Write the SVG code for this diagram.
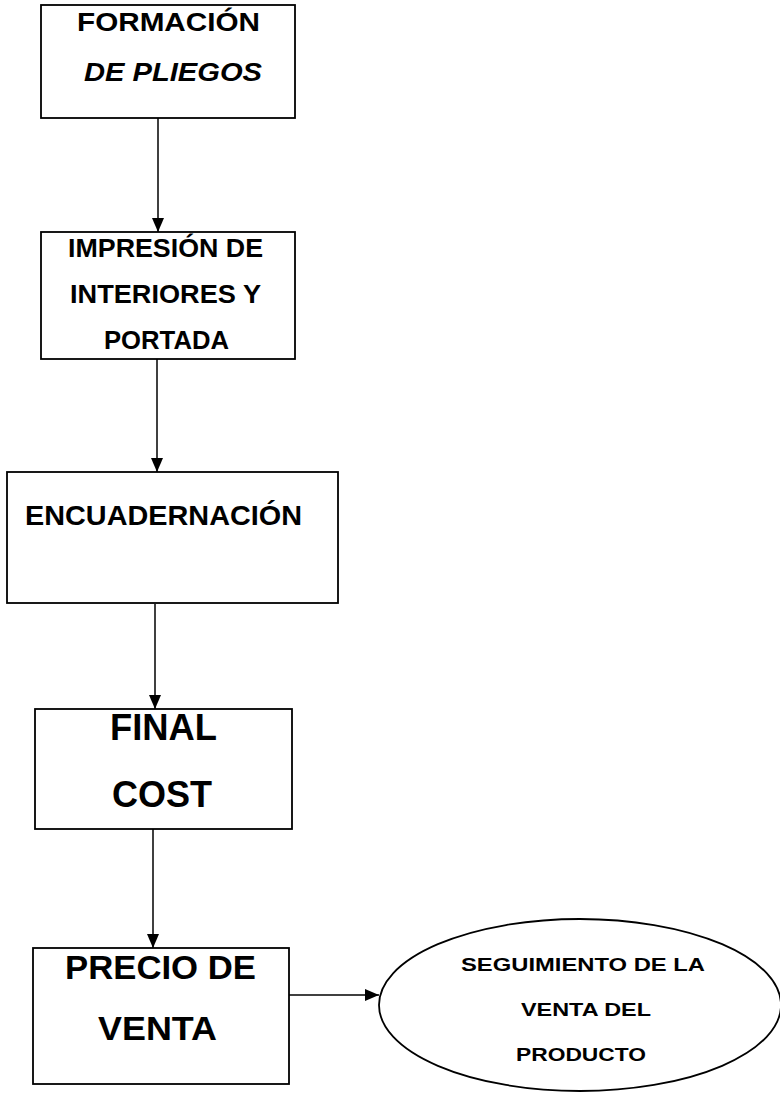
<svg xmlns="http://www.w3.org/2000/svg" width="780" height="1100" viewBox="0 0 780 1100">
<style>
.box{fill:#fff;stroke:#000;stroke-width:1.8}
.t{font-family:"Liberation Sans",Arial,sans-serif;font-weight:bold;fill:#000}
.c{stroke:#000;stroke-width:1.5;fill:none}
</style>
<defs>
<marker id="ah" viewBox="0 0 14 12" refX="14" refY="6" markerWidth="14" markerHeight="12" markerUnits="userSpaceOnUse" orient="auto"><path d="M0,0 L14,6 L0,12 z" fill="#000"/></marker>
</defs>
<rect width="780" height="1100" fill="#fff"/>
<g id="connectors">
<line class="c" x1="158" y1="118" x2="158" y2="232" marker-end="url(#ah)"/>
<line class="c" x1="157" y1="359" x2="157" y2="472" marker-end="url(#ah)"/>
<line class="c" x1="155" y1="604" x2="155" y2="709" marker-end="url(#ah)"/>
<line class="c" x1="153" y1="829" x2="153" y2="948" marker-end="url(#ah)"/>
<line class="c" x1="289" y1="995" x2="379" y2="995" marker-end="url(#ah)"/>
</g>
<g id="n1">
<rect class="box" x="41" y="5" width="254" height="113"/>
<text class="t" x="77" y="31" font-size="26" textLength="183" lengthAdjust="spacingAndGlyphs">FORMACIÓN</text>
<text class="t" x="84" y="81" font-size="26" font-style="italic" textLength="178" lengthAdjust="spacingAndGlyphs">DE PLIEGOS</text>
</g>
<g id="n2">
<rect class="box" x="41" y="232" width="254" height="127"/>
<text class="t" x="68" y="257" font-size="26" textLength="195" lengthAdjust="spacingAndGlyphs">IMPRESIÓN DE</text>
<text class="t" x="70" y="303" font-size="26" textLength="191" lengthAdjust="spacingAndGlyphs">INTERIORES Y</text>
<text class="t" x="104" y="349" font-size="26" textLength="125" lengthAdjust="spacingAndGlyphs">PORTADA</text>
</g>
<g id="n3">
<rect class="box" x="7" y="472" width="331" height="131"/>
<text class="t" x="25" y="525" font-size="28" textLength="277" lengthAdjust="spacingAndGlyphs">ENCUADERNACIÓN</text>
</g>
<g id="n4">
<rect class="box" x="35" y="709" width="257" height="120"/>
<text class="t" x="110" y="740" font-size="36" textLength="107" lengthAdjust="spacingAndGlyphs">FINAL</text>
<text class="t" x="112" y="807" font-size="36" textLength="100" lengthAdjust="spacingAndGlyphs">COST</text>
</g>
<g id="n5">
<rect class="box" x="33" y="948" width="256" height="136"/>
<text class="t" x="65" y="979" font-size="33" textLength="191" lengthAdjust="spacingAndGlyphs">PRECIO DE</text>
<text class="t" x="98" y="1040" font-size="33" textLength="119" lengthAdjust="spacingAndGlyphs">VENTA</text>
</g>
<g id="n6">
<ellipse class="box" cx="580" cy="1005" rx="201" ry="86"/>
<text class="t" x="461" y="971" font-size="19" textLength="244" lengthAdjust="spacingAndGlyphs">SEGUIMIENTO DE LA</text>
<text class="t" x="521" y="1016" font-size="19" textLength="130" lengthAdjust="spacingAndGlyphs">VENTA DEL</text>
<text class="t" x="516" y="1061" font-size="19" textLength="130" lengthAdjust="spacingAndGlyphs">PRODUCTO</text>
</g>
</svg>
